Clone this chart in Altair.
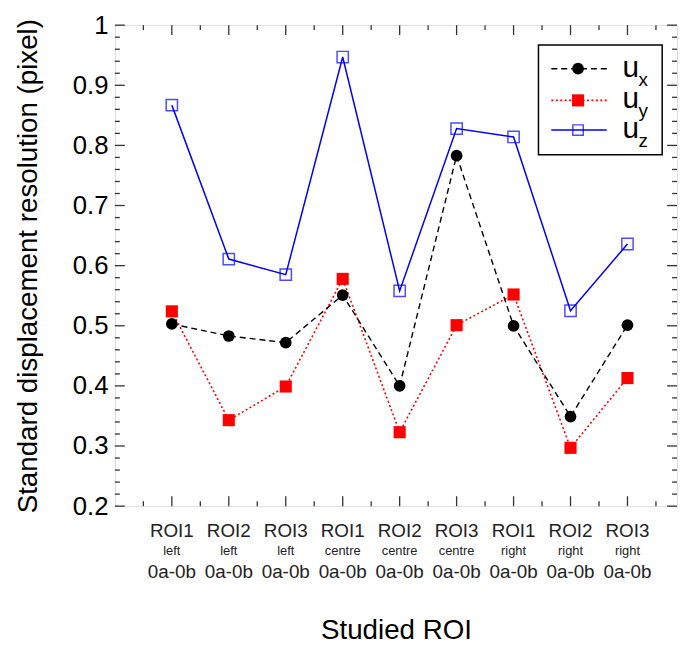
import altair as alt
import pandas as pd
import numpy as np

# ---- data ----
roi = ["ROI1", "ROI2", "ROI3", "ROI1", "ROI2", "ROI3", "ROI1", "ROI2", "ROI3"]
side = ["left", "left", "left", "centre", "centre", "centre", "right", "right", "right"]
pair = ["0a-0b"] * 9
pos = [1, 2, 3, 4, 5, 6, 7, 8, 9]
ux = [0.503, 0.483, 0.472, 0.551, 0.400, 0.783, 0.500, 0.349, 0.501]
uy = [0.524, 0.343, 0.399, 0.578, 0.323, 0.501, 0.552, 0.297, 0.413]
uz = [0.867, 0.611, 0.585, 0.947, 0.558, 0.828, 0.814, 0.525, 0.636]

y_major = [0.2, 0.3, 0.4, 0.5, 0.6, 0.7, 0.8, 0.9, 1.0]
y_minor = [round(v, 2) for v in np.arange(0.22, 1.0, 0.02) if abs(round(v * 10) - v * 10) > 1e-6]
x_major = pos
x_minor = [0.5, 1.5, 2.5, 3.5, 4.5, 5.5, 6.5, 7.5, 8.5, 9.5]

W, H = 568, 486
FONT = "Liberation Sans"
FRAME = "#333333"

df = pd.DataFrame({"pos": pos, "roi": roi, "side": side, "pair": pair,
                   "ux": ux, "uy": uy, "uz": uz})

xs = alt.Scale(domain=[0, 9.87], nice=False, zero=False)
ys = alt.Scale(domain=[0.2, 1.0], nice=False, zero=False)

xenc = alt.X("pos:Q", scale=xs,
             axis=alt.Axis(labels=False, ticks=False, domain=False, grid=False,
                           title="Studied ROI", titleFont=FONT, titleFontSize=28,
                           titleFontWeight="normal", titleColor="black", titlePadding=112))

base = alt.Chart(df)

# series
blue_line = base.mark_line(color="#0000ff", strokeWidth=1.5).encode(
    x=xenc,
    y=alt.Y("uz:Q", scale=ys,
            axis=alt.Axis(values=y_major, labelFont=FONT, labelFontSize=26, labelColor="black",
                          labelExpr="datum.value == 1 ? '1' : format(datum.value, '.1f')",
                          domain=False, ticks=False, grid=False, labelPadding=7,
                          title="Standard displacement resolution (pixel)", titleFont=FONT,
                          titleFontSize=28, titleFontWeight="normal", titleColor="black",
                          titlePadding=30)))
blue_pts = base.mark_point(shape="square", size=130, color="#0000ff", filled=False,
                           strokeWidth=1.5).encode(x="pos:Q", y="uz:Q")
red_line = base.mark_line(color="#ff0000", strokeWidth=1.6, strokeDash=[2, 2.5]).encode(
    x="pos:Q", y="uy:Q")
red_pts = base.mark_point(shape="square", size=150, color="#ff0000", filled=True,
                          opacity=1).encode(x="pos:Q", y="uy:Q")
black_line = base.mark_line(color="black", strokeWidth=1.4, strokeDash=[6, 4]).encode(
    x="pos:Q", y="ux:Q")
black_pts = base.mark_point(shape="circle", size=140, color="black", filled=True,
                            opacity=1).encode(x="pos:Q", y="ux:Q")

# x labels (three lines)
lab1 = base.mark_text(font=FONT, fontSize=19, color="#222", baseline="middle").encode(
    x="pos:Q", y=alt.value(H + 25), text="roi:N")
lab2 = base.mark_text(font=FONT, fontSize=13, color="#222", baseline="middle").encode(
    x="pos:Q", y=alt.value(H + 45), text="side:N")
lab3 = base.mark_text(font=FONT, fontSize=19, color="#222", baseline="middle").encode(
    x="pos:Q", y=alt.value(H + 67), text="pair:N")

# inward ticks on all four sides
ymaj = pd.DataFrame({"v": y_major})
ymin = pd.DataFrame({"v": y_minor})
xmaj = pd.DataFrame({"v": x_major})
xmin = pd.DataFrame({"v": x_minor})
tick_style = dict(color=FRAME, strokeWidth=1.3)
ticks = [
    alt.Chart(ymaj).mark_rule(**tick_style).encode(y=alt.Y("v:Q", scale=ys), x=alt.value(0), x2=alt.value(10)),
    alt.Chart(ymin).mark_rule(**tick_style).encode(y=alt.Y("v:Q", scale=ys), x=alt.value(0), x2=alt.value(5)),
    alt.Chart(ymaj).mark_rule(**tick_style).encode(y=alt.Y("v:Q", scale=ys), x=alt.value(W), x2=alt.value(W - 10)),
    alt.Chart(ymin).mark_rule(**tick_style).encode(y=alt.Y("v:Q", scale=ys), x=alt.value(W), x2=alt.value(W - 5)),
    alt.Chart(xmaj).mark_rule(**tick_style).encode(x=alt.X("v:Q", scale=xs), y=alt.value(H), y2=alt.value(H - 10)),
    alt.Chart(xmin).mark_rule(**tick_style).encode(x=alt.X("v:Q", scale=xs), y=alt.value(H), y2=alt.value(H - 5)),
    alt.Chart(xmaj).mark_rule(**tick_style).encode(x=alt.X("v:Q", scale=xs), y=alt.value(0), y2=alt.value(10)),
    alt.Chart(xmin).mark_rule(**tick_style).encode(x=alt.X("v:Q", scale=xs), y=alt.value(0), y2=alt.value(5)),
]

# legend (manual)
one = pd.DataFrame({"a": [0]})
lg = alt.Chart(one)
legend = [
    lg.mark_rect(fill="white", stroke="black", strokeWidth=1.5).encode(
        x=alt.value(428), x2=alt.value(553), y=alt.value(20), y2=alt.value(131)),
    lg.mark_rule(color="black", strokeWidth=1.4, strokeDash=[6, 4]).encode(
        x=alt.value(441), x2=alt.value(497), y=alt.value(44)),
    lg.mark_point(shape="circle", size=140, color="black", filled=True, opacity=1).encode(
        x=alt.value(468), y=alt.value(44)),
    lg.mark_rule(color="#ff0000", strokeWidth=1.6, strokeDash=[2, 2.5]).encode(
        x=alt.value(441), x2=alt.value(497), y=alt.value(76)),
    lg.mark_point(shape="square", size=150, color="#ff0000", filled=True, opacity=1).encode(
        x=alt.value(468), y=alt.value(76)),
    lg.mark_rule(color="#0000ff", strokeWidth=1.5).encode(
        x=alt.value(441), x2=alt.value(497), y=alt.value(106)),
    lg.mark_point(shape="square", size=110, color="#0000ff", filled=False, strokeWidth=1.5).encode(
        x=alt.value(468), y=alt.value(106)),
]
for yy, sub in [(44, "x"), (76, "y"), (106, "z")]:
    legend.append(lg.mark_text(text="u", font=FONT, fontSize=30, color="black",
                               align="left", baseline="alphabetic").encode(
        x=alt.value(513), y=alt.value(yy + 8)))
    legend.append(lg.mark_text(text=sub, font=FONT, fontSize=19, color="black",
                               align="left", baseline="alphabetic").encode(
        x=alt.value(529), y=alt.value(yy + 17)))

chart = alt.layer(
    blue_line, *ticks, blue_pts, red_line, red_pts, black_line, black_pts,
    lab1, lab2, lab3, *legend
).properties(
    width=W, height=H,
    autosize=alt.AutoSizeParams(type="none"),
    padding={"left": 108, "top": 14, "right": 2, "bottom": 140},
).configure_view(stroke=FRAME, strokeWidth=1.6).configure(background="white")

chart.save("out.html", embed_options={"renderer": "svg", "actions": False})
